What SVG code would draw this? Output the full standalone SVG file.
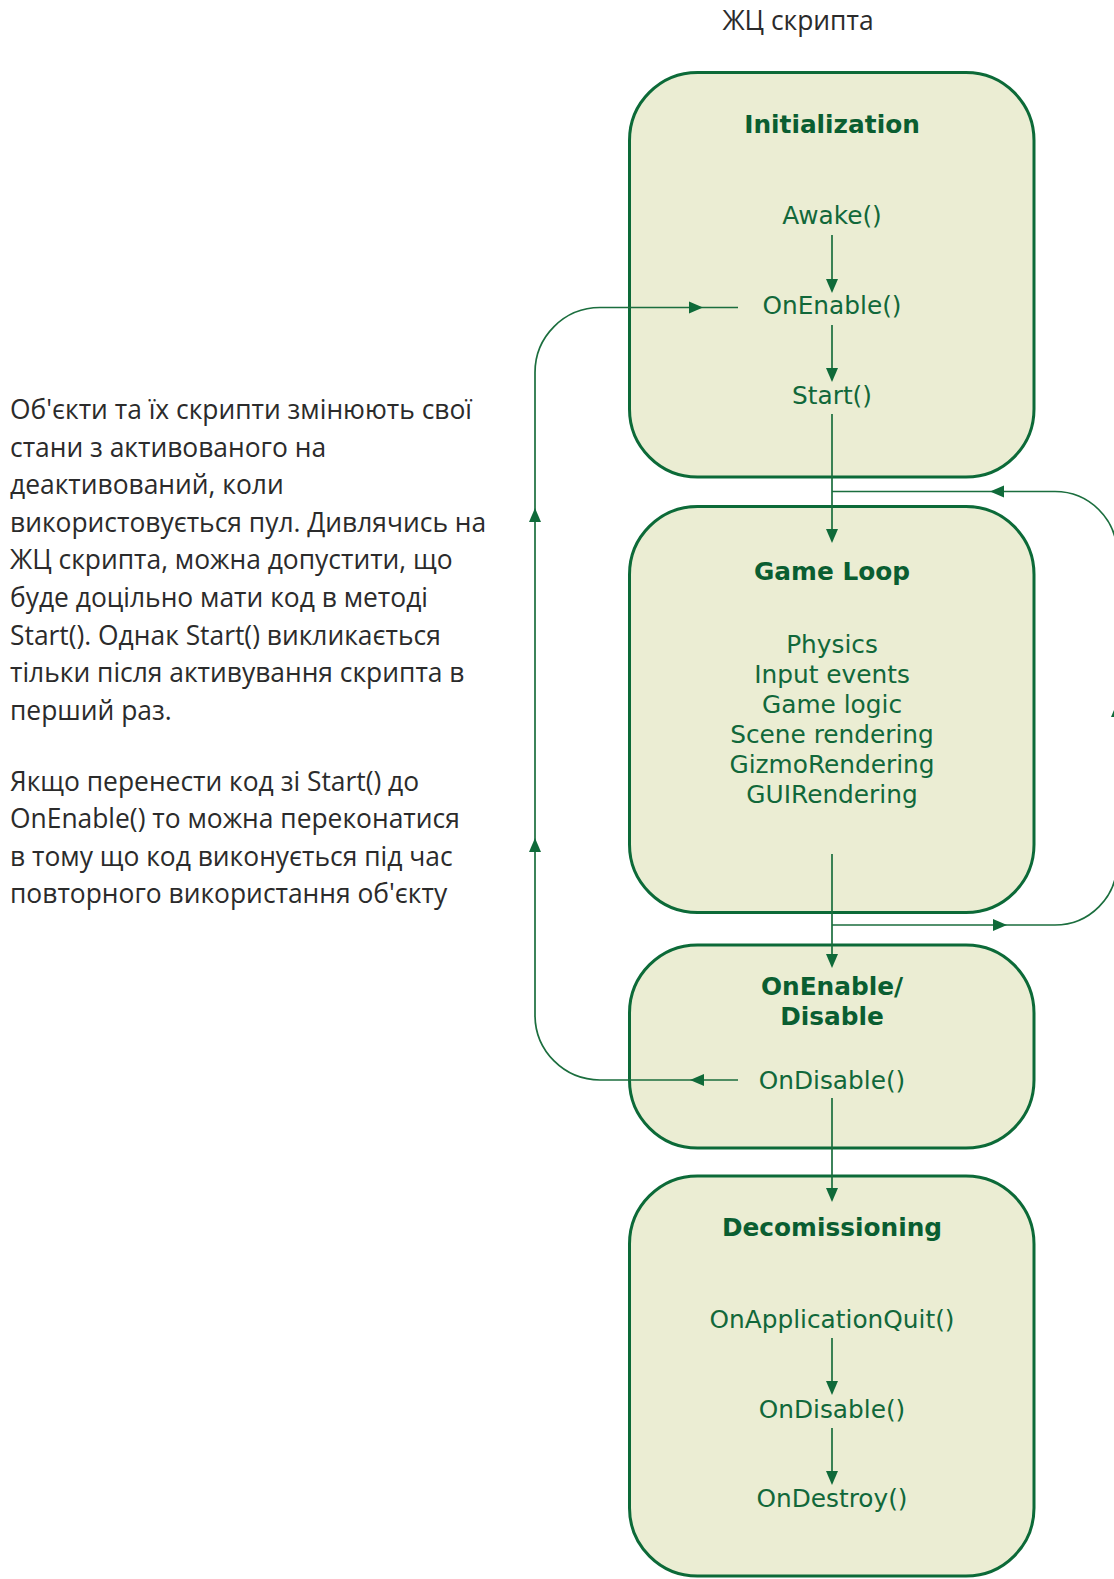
<svg xmlns="http://www.w3.org/2000/svg" xmlns:xlink="http://www.w3.org/1999/xlink" width="1114" height="1579" viewBox="0 0 1114 1579">
  <style>
    .box { fill: #ebedd3; stroke: #0c6a38; stroke-width: 3; }
    .hd { font-family: "DejaVu Sans", Verdana, sans-serif; font-weight: bold; font-size: 24.8px; fill: #0a5e31; text-anchor: middle; }
    .it { font-family: "DejaVu Sans", Verdana, sans-serif; font-size: 24.8px; fill: #11683a; text-anchor: middle; }
    .wire { fill: none; stroke: #1b6e3e; stroke-width: 1.7; }
    .tip { fill: #0f6a39; }
    .note { font-family: "Open Sans", "Noto Sans", sans-serif; font-size: 26.4px; fill: #2b2b2b; }
  </style>
  <defs>
    <!-- arrowhead pointing along +x, tip at origin -->
    <path id="ah" d="M0,0 L-14,-6 L-14,6 Z"/>
  </defs>

  <rect width="1114" height="1579" fill="#ffffff"/>

  <text class="note" x="798" y="30" text-anchor="middle">ЖЦ скрипта</text>

  <g id="note">
    <text class="note" x="10" y="419">Об'єкти та їх скрипти змінюють свої</text>
    <text class="note" x="10" y="456.6">стани з активованого на</text>
    <text class="note" x="10" y="494.2">деактивований, коли</text>
    <text class="note" x="10" y="531.8">використовується пул. Дивлячись на</text>
    <text class="note" x="10" y="569.4">ЖЦ скрипта, можна допустити, що</text>
    <text class="note" x="10" y="607">буде доцільно мати код в методі</text>
    <text class="note" x="10" y="644.6">Start(). Однак Start() викликається</text>
    <text class="note" x="10" y="682.2">тільки після активування скрипта в</text>
    <text class="note" x="10" y="719.8">перший раз.</text>
    <text class="note" x="10" y="790.5">Якщо перенести код зі Start() до</text>
    <text class="note" x="10" y="828.1">OnEnable() то можна переконатися</text>
    <text class="note" x="10" y="865.7">в тому що код виконується під час</text>
    <text class="note" x="10" y="903.3">повторного використання об'єкту</text>
  </g>

  <g id="initialization">
    <rect class="box" x="629.5" y="72.5" width="404.5" height="404.5" rx="68" ry="68"/>
    <text class="hd" x="832" y="133">Initialization</text>
    <text class="it" x="832" y="223.5">Awake()</text>
    <text class="it" x="832" y="314">OnEnable()</text>
    <text class="it" x="832" y="404">Start()</text>
  </g>

  <g id="game-loop">
    <rect class="box" x="629.5" y="506.5" width="404.5" height="406" rx="68" ry="68"/>
    <text class="hd" x="832" y="580">Game Loop</text>
    <text class="it" x="832" y="652.5">Physics</text>
    <text class="it" x="832" y="682.5">Input events</text>
    <text class="it" x="832" y="712.5">Game logic</text>
    <text class="it" x="832" y="742.5">Scene rendering</text>
    <text class="it" x="832" y="772.5">GizmoRendering</text>
    <text class="it" x="832" y="802.5">GUIRendering</text>
  </g>

  <g id="enable-disable">
    <rect class="box" x="629.5" y="945" width="404.5" height="203" rx="68" ry="68"/>
    <text class="hd" x="832" y="995">OnEnable/</text>
    <text class="hd" x="832" y="1025">Disable</text>
    <text class="it" x="832" y="1089">OnDisable()</text>
  </g>

  <g id="decommissioning">
    <rect class="box" x="629.5" y="1176" width="404.5" height="400" rx="68" ry="68"/>
    <text class="hd" x="832" y="1236">Decomissioning</text>
    <text class="it" x="832" y="1328">OnApplicationQuit()</text>
    <text class="it" x="832" y="1418">OnDisable()</text>
    <text class="it" x="832" y="1507">OnDestroy()</text>
  </g>

  <g id="connectors">
    <!-- steps inside Initialization -->
    <path class="wire" d="M832,235 V285"/>
    <use xlink:href="#ah" class="tip" transform="translate(832,293) rotate(90)"/>
    <path class="wire" d="M832,325 V374"/>
    <use xlink:href="#ah" class="tip" transform="translate(832,382) rotate(90)"/>

    <!-- Start() into Game Loop -->
    <path class="wire" d="M832,414 V535"/>
    <use xlink:href="#ah" class="tip" transform="translate(832,543) rotate(90)"/>

    <!-- repeat loop on the right -->
    <path class="wire" d="M832,925 H1055 A62,62 0 0 0 1117,863 V553 A62,62 0 0 0 1055,491.5 H832"/>
    <use xlink:href="#ah" class="tip" transform="translate(1007,925)"/>
    <use xlink:href="#ah" class="tip" transform="translate(1117,703) rotate(-90)"/>
    <use xlink:href="#ah" class="tip" transform="translate(990,491.5) rotate(180)"/>

    <!-- Game Loop into OnEnable/Disable -->
    <path class="wire" d="M832,854 V960"/>
    <use xlink:href="#ah" class="tip" transform="translate(832,968) rotate(90)"/>

    <!-- re-enable loop on the left -->
    <path class="wire" d="M738,1080 H600 A65,65 0 0 1 535,1015 V372.5 A65,65 0 0 1 600,307.5 H738"/>
    <use xlink:href="#ah" class="tip" transform="translate(690,1080) rotate(180)"/>
    <use xlink:href="#ah" class="tip" transform="translate(535,838) rotate(-90)"/>
    <use xlink:href="#ah" class="tip" transform="translate(535,508) rotate(-90)"/>
    <use xlink:href="#ah" class="tip" transform="translate(703,307.5)"/>

    <!-- OnDisable() into Decomissioning -->
    <path class="wire" d="M832,1098 V1194"/>
    <use xlink:href="#ah" class="tip" transform="translate(832,1202) rotate(90)"/>

    <!-- steps inside Decomissioning -->
    <path class="wire" d="M832,1338 V1387"/>
    <use xlink:href="#ah" class="tip" transform="translate(832,1395) rotate(90)"/>
    <path class="wire" d="M832,1428 V1477"/>
    <use xlink:href="#ah" class="tip" transform="translate(832,1485) rotate(90)"/>
  </g>
</svg>
